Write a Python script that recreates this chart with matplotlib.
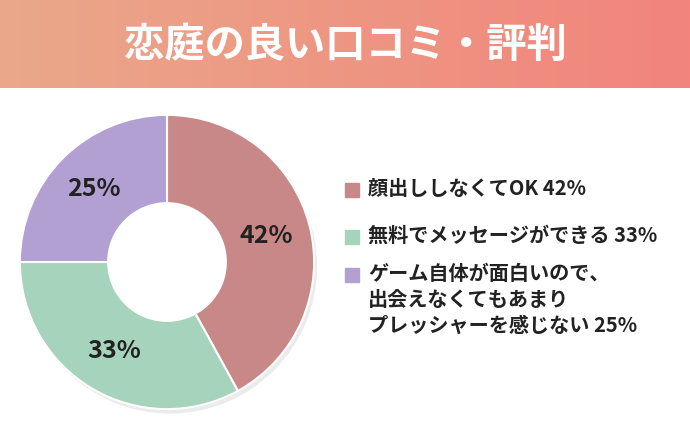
import matplotlib.pyplot as plt
import numpy as np
from matplotlib.patches import Rectangle

plt.rcParams['font.family'] = ['Noto Sans CJK JP', 'DejaVu Sans']

title = '恋庭の良い口コミ・評判'
labels = ['顔出ししなくてOK 42%', '無料でメッセージができる 33%',
          'ゲーム自体が面白いので、\n出会えなくてもあまり\nプレッシャーを感じない 25%']
values = [42, 33, 25]
pct_labels = ['42%', '33%', '25%']
colors = ['#c88888', '#a6d3bc', '#b3a0d2']

W, H = 690, 430
fig = plt.figure(figsize=(W / 100, H / 100), dpi=100)

# header gradient
hax = fig.add_axes([0, 1 - 88 / H, 1, 88 / H])
grad = np.linspace(0, 1, 256)[None, :]
c0 = np.array([0xea, 0xa8, 0x8a]) / 255
c1 = np.array([0xf2, 0x84, 0x7c]) / 255
img = c0[None, None, :] * (1 - grad[..., None]) + c1[None, None, :] * grad[..., None]
hax.imshow(img, aspect='auto', extent=[0, 1, 0, 1])
hax.text(0.5, 0.48, title, color='white', fontsize=29, fontweight='bold',
         ha='center', va='center')
hax.axis('off')

# donut
r = 148
cx, cy = 167, 262
ax = fig.add_axes([(cx - r - 5) / W, (H - cy - r - 5) / H, (2 * r + 10) / W, (2 * r + 10) / H])
ax.pie([1], radius=1.0, colors=['#ebebeb'], center=(0.02, -0.03),
       wedgeprops=dict(width=0.15, linewidth=0))
wedges, _ = ax.pie(values, colors=colors, startangle=90, counterclock=False,
                   wedgeprops=dict(width=0.6, edgecolor='white', linewidth=1.5))
for w, t in zip(wedges, pct_labels):
    ang = np.deg2rad((w.theta1 + w.theta2) / 2)
    ax.text(0.7 * np.cos(ang), 0.7 * np.sin(ang), t, ha='center', va='center',
            fontsize=18, fontweight='bold', color='#222222')
ax.set_xlim(-1.04, 1.04)
ax.set_ylim(-1.04, 1.04)
ax.set_aspect('equal')
ax.axis('off')

# legend
lax = fig.add_axes([0, 0, 1, 1])
lax.set_xlim(0, W)
lax.set_ylim(H, 0)
lax.axis('off')
ys = [190, 237, 275]
for y, c, lab in zip(ys, colors, labels):
    lax.add_patch(Rectangle((345, y - 7), 14, 14, color=c))
    lax.text(368, y - 12, lab, fontsize=14.5, fontweight='bold', color='#222222',
             va='top', ha='left', linespacing=1.3)

fig.savefig('out.png', dpi=100)
